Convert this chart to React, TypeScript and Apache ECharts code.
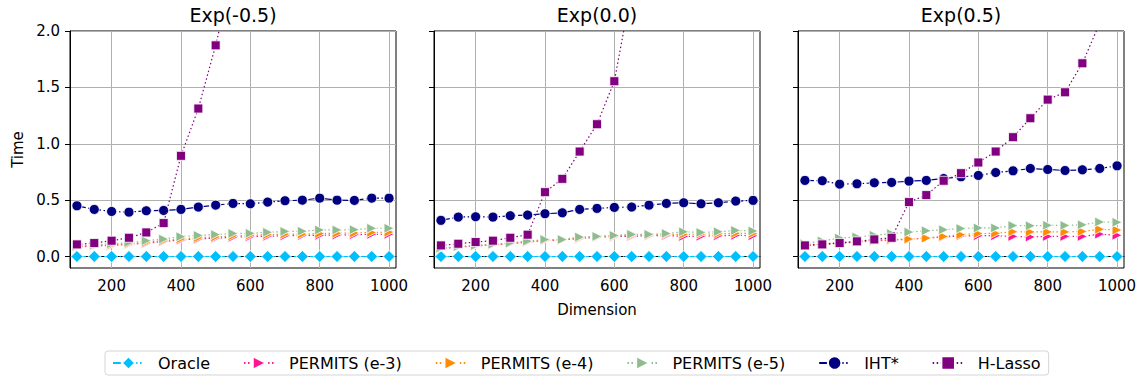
import React, { useEffect, useRef } from 'react';
import * as echarts from 'echarts';

const dims = [100, 150, 200, 250, 300, 350, 400, 450, 500, 550, 600, 650, 700, 750, 800, 850, 900, 950, 1000];
const panelTitles = ['Exp(-0.5)', 'Exp(0.0)', 'Exp(0.5)'];
const xTicks = [200, 400, 600, 800, 1000];
const yTicks = [0, 0.5, 1.0, 1.5, 2.0];
const methods = ['Oracle', 'PERMITS (e-3)', 'PERMITS (e-4)', 'PERMITS (e-5)', 'IHT*', 'H-Lasso'];

// Panel 1: Exp(-0.5)
const oracle1 = [0.002, 0.002, 0.002, 0.002, 0.002, 0.002, 0.002, 0.002, 0.002, 0.002, 0.002, 0.002, 0.002, 0.002, 0.002, 0.002, 0.002, 0.002, 0.002];
const pe3_1 = [0.085, 0.095, 0.1, 0.11, 0.12, 0.135, 0.148, 0.158, 0.165, 0.172, 0.178, 0.182, 0.185, 0.188, 0.19, 0.192, 0.195, 0.198, 0.2];
const pe4_1 = [0.09, 0.1, 0.105, 0.115, 0.128, 0.142, 0.158, 0.168, 0.175, 0.185, 0.19, 0.195, 0.2, 0.2, 0.205, 0.208, 0.21, 0.215, 0.218];
const pe5_1 = [0.095, 0.105, 0.115, 0.125, 0.142, 0.156, 0.178, 0.189, 0.196, 0.206, 0.207, 0.216, 0.224, 0.226, 0.237, 0.237, 0.24, 0.252, 0.252];
const iht1 = [0.451, 0.419, 0.401, 0.395, 0.407, 0.41, 0.419, 0.44, 0.457, 0.472, 0.469, 0.484, 0.496, 0.501, 0.519, 0.501, 0.499, 0.519, 0.519];
const hl1 = [0.109, 0.121, 0.142, 0.168, 0.215, 0.298, 0.894, 1.313, 1.873, 2.53, 3.3, 4.2, 5.2, 6.4, 7.7, 9.1, 10.7, 12.4, 14.3];

// Panel 2: Exp(0.0)
const oracle2 = [0.002, 0.002, 0.002, 0.002, 0.002, 0.002, 0.002, 0.002, 0.002, 0.002, 0.002, 0.002, 0.002, 0.002, 0.002, 0.002, 0.002, 0.002, 0.002];
const pe3_2 = [0.072, 0.085, 0.095, 0.105, 0.116, 0.13, 0.144, 0.147, 0.162, 0.172, 0.178, 0.182, 0.185, 0.188, 0.18, 0.182, 0.186, 0.19, 0.186];
const pe4_2 = [0.075, 0.088, 0.098, 0.108, 0.12, 0.134, 0.148, 0.15, 0.168, 0.176, 0.184, 0.19, 0.193, 0.198, 0.198, 0.2, 0.203, 0.208, 0.205];
const pe5_2 = [0.075, 0.09, 0.1, 0.11, 0.122, 0.138, 0.153, 0.152, 0.174, 0.18, 0.189, 0.198, 0.198, 0.206, 0.221, 0.215, 0.221, 0.233, 0.228];
const iht2 = [0.322, 0.351, 0.354, 0.351, 0.363, 0.369, 0.381, 0.389, 0.419, 0.428, 0.437, 0.44, 0.457, 0.472, 0.478, 0.469, 0.478, 0.493, 0.499];
const hl2 = [0.1, 0.115, 0.13, 0.142, 0.168, 0.195, 0.572, 0.69, 0.932, 1.174, 1.555, 2.38, 3.0, 3.7, 4.5, 5.4, 6.4, 7.5, 8.7];

// Panel 3: Exp(0.5)
const oracle3 = [0.002, 0.002, 0.002, 0.002, 0.002, 0.002, 0.002, 0.002, 0.002, 0.002, 0.002, 0.002, 0.002, 0.002, 0.002, 0.002, 0.002, 0.002, 0.002];
const pe3_3 = [0.1, 0.11, 0.12, 0.13, 0.14, 0.148, 0.155, 0.165, 0.175, 0.185, 0.186, 0.186, 0.18, 0.175, 0.18, 0.18, 0.18, 0.2, 0.19];
const pe4_3 = [0.105, 0.115, 0.125, 0.135, 0.145, 0.152, 0.157, 0.165, 0.18, 0.195, 0.205, 0.207, 0.222, 0.22, 0.22, 0.22, 0.224, 0.243, 0.236];
const pe5_3 = [0.115, 0.14, 0.165, 0.175, 0.19, 0.205, 0.218, 0.23, 0.239, 0.25, 0.255, 0.255, 0.276, 0.274, 0.278, 0.277, 0.283, 0.308, 0.305];
const iht3 = [0.676, 0.673, 0.643, 0.646, 0.655, 0.658, 0.67, 0.676, 0.693, 0.708, 0.72, 0.746, 0.761, 0.782, 0.773, 0.764, 0.77, 0.782, 0.805];
const hl3 = [0.1, 0.109, 0.121, 0.136, 0.153, 0.168, 0.484, 0.546, 0.673, 0.74, 0.835, 0.932, 1.059, 1.227, 1.392, 1.457, 1.714, 2.07, 2.45];

const panelData = [
  [oracle1, pe3_1, pe4_1, pe5_1, iht1, hl1],
  [oracle2, pe3_2, pe4_2, pe5_2, iht2, hl2],
  [oracle3, pe3_3, pe4_3, pe5_3, iht3, hl3],
];

const FONT = 'DejaVu Sans';
const dashdot = [9, 2.5, 1.5, 2.5];
const dotted = [1.5, 2.5];

const methodStyles = [
  { color: '#00BFFF', symbol: 'diamond', size: [12, 12], rotate: 0, dash: dashdot },
  { color: '#FF1493', symbol: 'triangle', size: 10, rotate: -90, dash: dotted },
  { color: '#FF8C00', symbol: 'triangle', size: 10, rotate: -90, dash: dotted },
  { color: '#8FBC8F', symbol: 'triangle', size: 10, rotate: -90, dash: dotted },
  { color: '#000080', symbol: 'circle', size: 10, rotate: 0, dash: dashdot },
  { color: '#800080', symbol: 'rect', size: 9, rotate: 0, dash: dotted },
];

const gridLefts = [70, 434, 798];
const gridWidth = 326;
const gridTop = 31;
const gridHeight = 237;

export default function App() {
  const ref = useRef<HTMLDivElement>(null);
  useEffect(() => {
    if (!ref.current) return;
    const chart = echarts.init(ref.current, undefined, { renderer: 'svg' });
    const grids = gridLefts.map((l) => ({
      left: l,
      top: gridTop,
      width: gridWidth,
      height: gridHeight,
      show: true,
      borderColor: '#000',
      borderWidth: 1,
      backgroundColor: 'transparent',
      containLabel: false,
    }));
    const xAxes = gridLefts.map((_, p) => ({
      type: 'value',
      gridIndex: p,
      min: 80,
      max: 1020,
      name: p === 1 ? 'Dimension' : '',
      nameLocation: 'middle',
      nameGap: 34,
      nameTextStyle: { fontSize: 15, fontFamily: FONT, color: '#000' },
      axisLine: { show: true, lineStyle: { color: '#000', width: 1 } },
      axisTick: { show: true, customValues: xTicks, length: 5, lineStyle: { color: '#000', width: 1 } },
      axisLabel: {
        show: true,
        customValues: xTicks,
        fontSize: 15,
        fontFamily: FONT,
        color: '#000',
        margin: 10,
        formatter: (v: number) => String(v),
      },
      splitLine: { show: true, lineStyle: { color: '#b0b0b0', width: 1 } },
    }));
    const yAxes = gridLefts.map((_, p) => ({
      type: 'value',
      gridIndex: p,
      min: -0.1,
      max: 2.0,
      name: p === 0 ? 'Time' : '',
      nameLocation: 'middle',
      nameGap: 45,
      nameTextStyle: { fontSize: 15, fontFamily: FONT, color: '#000' },
      axisLine: { show: true, lineStyle: { color: '#000', width: 1 } },
      axisTick: { show: true, customValues: yTicks, length: 5, lineStyle: { color: '#000', width: 1 } },
      axisLabel: {
        show: p === 0,
        customValues: yTicks,
        fontSize: 15,
        fontFamily: FONT,
        color: '#000',
        margin: 10,
        formatter: (v: number) => v.toFixed(1),
      },
      splitLine: { show: true, lineStyle: { color: '#b0b0b0', width: 1 } },
    }));
    const series: any[] = [];
    panelData.forEach((arrs, p) => {
      arrs.forEach((vals, m) => {
        const st = methodStyles[m];
        series.push({
          type: 'line',
          name: methods[m],
          xAxisIndex: p,
          yAxisIndex: p,
          data: dims.map((d, i) => [d, vals[i]]),
          symbol: st.symbol,
          symbolSize: st.size,
          symbolRotate: st.rotate,
          showSymbol: true,
          clip: true,
          silent: true,
          lineStyle: { color: st.color, width: 1.2, type: st.dash },
          itemStyle: { color: st.color, borderColor: '#fff', borderWidth: 0.8 },
          z: 2 + m,
        });
      });
    });
    const graphics = panelTitles.map((t, p) => ({
      type: 'text',
      x: gridLefts[p] + gridWidth / 2,
      y: 15,
      style: { text: t, fontSize: 19, fontFamily: FONT, fill: '#000', align: 'center', verticalAlign: 'middle' },
    }));
    chart.setOption({
      animation: false,
      grid: grids,
      xAxis: xAxes,
      yAxis: yAxes,
      series,
      graphic: graphics,
      legend: {
        left: 105,
        top: 351,
        orient: 'horizontal',
        itemWidth: 31,
        itemHeight: 17,
        itemGap: 33,
        padding: [4, 8, 4, 7],
        borderColor: '#d5d5d5',
        borderWidth: 1,
        borderRadius: 3,
        selectedMode: false,
        textStyle: { fontSize: 16, fontFamily: FONT, color: '#000', padding: [0, 0, 0, 9] },
        data: methods,
      },
    });
    return () => chart.dispose();
  }, []);
  return <div ref={ref} style={{ position: 'absolute', left: 0, top: 0, width: 1144, height: 384 }} />;
}
